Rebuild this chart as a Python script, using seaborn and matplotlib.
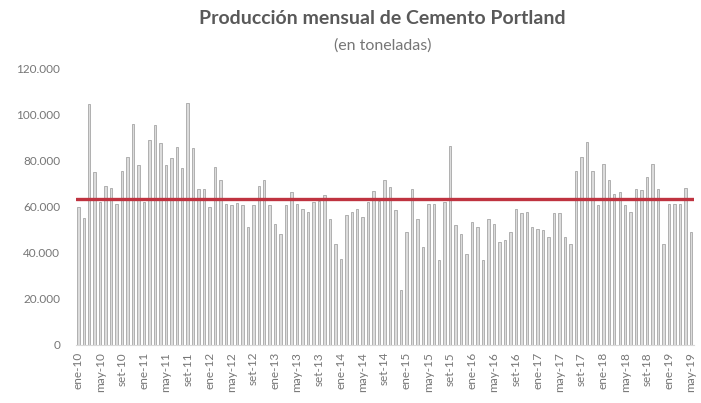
import matplotlib
matplotlib.use("Agg")
import matplotlib.pyplot as plt
import seaborn as sns
import pandas as pd

# meses ene-10 .. may-19
meses_abrev = ['ene', 'feb', 'mar', 'abr', 'may', 'jun',
               'jul', 'ago', 'set', 'oct', 'nov', 'dic']
anios = ['10', '11', '12', '13', '14', '15', '16', '17', '18', '19']

# produccion mensual (toneladas)
produccion = [
    60000, 55000, 104500, 75000, 62000, 69000, 68000, 61000, 75300, 81600, 95800, 77800,   # 2010
    62000, 88900, 95300, 87400, 77800, 81100, 85700, 76800, 104700, 85400, 67700, 67700,   # 2011
    60000, 77300, 71600, 61200, 60500, 61500, 60500, 51100, 60500, 69100, 71300, 60500,    # 2012
    52600, 48300, 60500, 66200, 61200, 59000, 57600, 61900, 62500, 65200, 54700, 43900,    # 2013
    37400, 56200, 57600, 59000, 55400, 61900, 66700, 62600, 71600, 68400, 58300, 23800,    # 2014
    49000, 67700, 54700, 42500, 61200, 61200, 36700, 62000, 86400, 51800, 48300, 39600,    # 2015
    53300, 51100, 36700, 54700, 52600, 44600, 45400, 49000, 59000, 57200, 57600, 51100,    # 2016
    50400, 49700, 46800, 57200, 57200, 46800, 43900, 75600, 81300, 87800, 75600, 60500,    # 2017
    78500, 71600, 65500, 66200, 60500, 57600, 67700, 67300, 72700, 78500, 67700, 43900,    # 2018
    61200, 61200, 61200, 68100, 49000,                                                    # 2019
]
promedio = 63400

etiquetas = [m + '-' + a for a in anios for m in meses_abrev][:len(produccion)]
df = pd.DataFrame({'mes': etiquetas, 'toneladas': produccion})

sns.set_style("white")
plt.rcParams['font.family'] = ['Lato', 'DejaVu Sans']

fig = plt.figure(figsize=(7.01, 4.03), dpi=100)
ax = fig.add_axes([0.1078, 0.144, 0.8816, 0.687])

sns.barplot(data=df, x='mes', y='toneladas', color='#dcdcdc', width=0.45,
            edgecolor='#a6a6a6', linewidth=0.6, saturation=1, ax=ax)
ax.axhline(promedio, color='#bf3340', linewidth=2.4, zorder=5)

ax.set_xlim(-0.5, len(produccion) - 0.5)
ax.set_ylim(0, 120000)
ax.set_yticks(range(0, 120001, 20000))
ax.set_yticklabels(['0' if v == 0 else f'{v:,}'.replace(',', '.')
                    for v in range(0, 120001, 20000)],
                   fontsize=8.5, color='#767676')
pos = list(range(0, len(produccion), 4))
ax.set_xticks(pos)
ax.set_xticklabels([etiquetas[i] for i in pos], rotation=90,
                   fontsize=8.5, color='#767676')
ax.tick_params(axis='y', length=0, pad=11)
ax.tick_params(axis='x', length=0, pad=5)
ax.set_xlabel('')
ax.set_ylabel('')

for s in ['top', 'right', 'left']:
    ax.spines[s].set_visible(False)
ax.spines['bottom'].set_color('#d9d9d9')
ax.spines['bottom'].set_linewidth(0.8)

fig.text(0.546, 0.955, 'Producción mensual de Cemento Portland',
         ha='center', va='center', fontsize=14, fontweight='bold',
         color='#595959')
fig.text(0.546, 0.888, '(en toneladas)', ha='center', va='center',
         fontsize=11.5, color='#767676')

fig.savefig('out.png', dpi=100)
